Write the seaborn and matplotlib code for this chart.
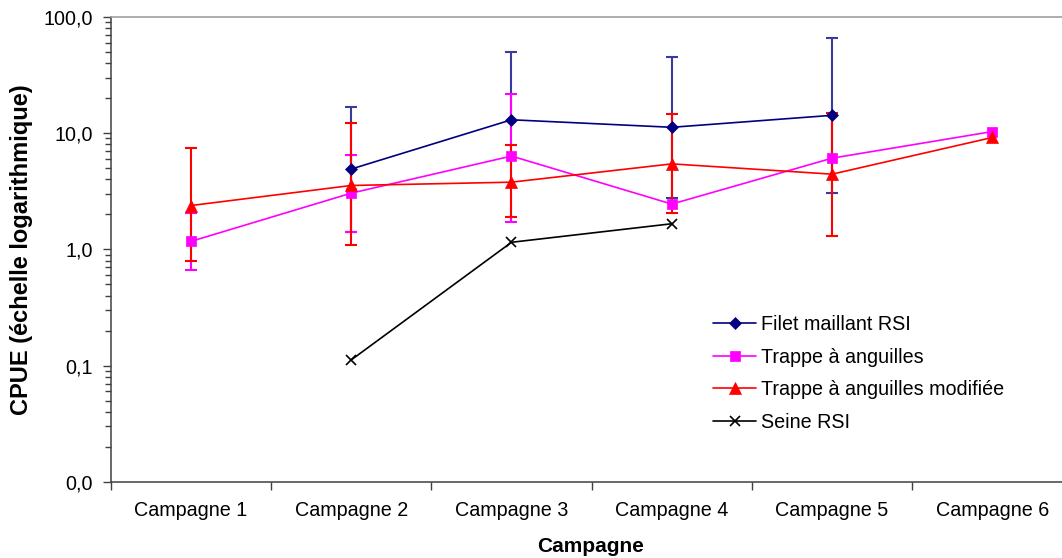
import numpy as np
import pandas as pd
import matplotlib
matplotlib.use("Agg")
import matplotlib.pyplot as plt
import matplotlib.ticker as mticker
import seaborn as sns

# ---------------- data ----------------
categories = ["Campagne 1", "Campagne 2", "Campagne 3", "Campagne 4", "Campagne 5", "Campagne 6"]
nan = np.nan

filet = [nan, 4.9, 13.0, 11.2, 14.2, nan]
filet_hi = [nan, 16.9, 50.0, 45.3, 65.0, nan]
filet_lo = [nan, 1.41, nan, 2.77, 3.06, nan]

trappe = [1.17, 3.04, 6.34, 2.45, 6.08, 10.3]
trappe_hi = [2.07, 6.41, 21.6, nan, nan, nan]
trappe_lo = [0.667, 1.41, 1.73, nan, nan, nan]

modif = [2.38, 3.54, 3.78, 5.43, 4.43, 9.16]
modif_hi = [7.47, 12.2, 7.93, 14.7, 15.0, nan]
modif_lo = [0.80, 1.08, 1.88, 2.07, 1.31, nan]

seine = [nan, 0.112, 1.15, 1.66, nan, nan]

series_names = ["Filet maillant RSI", "Trappe à anguilles",
                "Trappe à anguilles modifiée", "Seine RSI"]
y_ticks = [0.01, 0.1, 1, 10, 100]
y_tick_labels = ["0,0", "0,1", "1,0", "10,0", "100,0"]
x_label = "Campagne"
y_label = "CPUE (échelle logarithmique)"

# ---------------- style ----------------
sns.set_style("ticks")
plt.rcParams["font.family"] = ["Liberation Sans", "DejaVu Sans"]
plt.rcParams["text.color"] = "black"
plt.rcParams["axes.labelcolor"] = "black"
plt.rcParams["xtick.labelcolor"] = "black"
plt.rcParams["ytick.labelcolor"] = "black"

W, H = 1062, 558
fig = plt.figure(figsize=(W / 100, H / 100), dpi=100)
left_px, right_px, top_px, bottom_px = 110.7, 1072.6, 16.7, 482.0
ax = fig.add_axes([left_px / W, 1 - bottom_px / H,
                   (right_px - left_px) / W, (bottom_px - top_px) / H])

xpos = np.arange(len(categories))

styles = [
    dict(name=series_names[0], vals=filet, hi=filet_hi, lo=filet_lo,
         color="#000080", ecolor="#3a3a9e", marker="D", ms=6.4, mew=0.5),
    dict(name=series_names[1], vals=trappe, hi=trappe_hi, lo=trappe_lo,
         color="#FF00FF", ecolor="#FF00FF", marker="s", ms=7.0, mew=0.5),
    dict(name=series_names[2], vals=modif, hi=modif_hi, lo=modif_lo,
         color="#FF0000", ecolor="#FF0000", marker="^", ms=9.0, mew=0.5),
    dict(name=series_names[3], vals=seine, hi=None, lo=None,
         color="#000000", ecolor="#000000", marker="x", ms=7.5, mew=1.2),
]

# error bars (stems + caps)
for st in styles:
    if st["hi"] is None:
        continue
    v = np.array(st["vals"], float)
    hi = np.array(st["hi"], float)
    lo = np.array(st["lo"], float)
    m = ~np.isnan(hi)
    ax.vlines(xpos[m], v[m], hi[m], color=st["ecolor"], lw=1.5, zorder=2)
    ax.plot(xpos[m], hi[m], ls="none", marker="_", ms=9, mew=1.5,
            color=st["ecolor"], zorder=2)
    m = ~np.isnan(lo)
    ax.vlines(xpos[m], lo[m], v[m], color=st["ecolor"], lw=1.5, zorder=2)
    ax.plot(xpos[m], lo[m], ls="none", marker="_", ms=9, mew=1.5,
            color=st["ecolor"], zorder=2)

# lines + markers
for i, st in enumerate(styles):
    df = pd.DataFrame({"x": xpos, "y": st["vals"]}).dropna()
    sns.lineplot(data=df, x="x", y="y", ax=ax, color=st["color"],
                 marker=st["marker"], markersize=st["ms"],
                 markeredgecolor=st["color"], markeredgewidth=st["mew"],
                 markerfacecolor=st["color"], linewidth=1.2,
                 label=st["name"], zorder=3 + i)

ax.set_yscale("log")
ax.set_ylim(0.01, 100)
ax.set_xlim(-0.5, len(categories) - 0.5)

ax.yaxis.set_major_locator(mticker.FixedLocator(y_ticks))
ax.yaxis.set_major_formatter(mticker.FixedFormatter(y_tick_labels))
ax.yaxis.set_minor_locator(mticker.LogLocator(base=10, subs=np.arange(2, 10)))
ax.yaxis.set_minor_formatter(mticker.NullFormatter())

ax.xaxis.set_major_locator(mticker.FixedLocator(xpos))
ax.xaxis.set_major_formatter(mticker.FixedFormatter(categories))
ax.xaxis.set_minor_locator(mticker.FixedLocator(np.arange(len(categories) + 1) - 0.5))

ax.tick_params(axis="x", which="major", length=0, pad=14, labelsize=14.2)
ax.tick_params(axis="x", which="minor", length=6, width=1.0, color="#404040")
ax.tick_params(axis="y", which="major", length=6, width=1.0, pad=7, labelsize=14.2,
               color="#404040")
ax.tick_params(axis="y", which="minor", length=4.5, width=1.0, color="#404040")

for side in ["left", "bottom"]:
    ax.spines[side].set_color("#404040")
    ax.spines[side].set_linewidth(1.1)
ax.spines["top"].set_visible(True)
ax.spines["top"].set_color("#a0a0a0")
ax.spines["top"].set_linewidth(1.2)
ax.spines["right"].set_visible(True)
ax.spines["right"].set_color("#a0a0a0")

ax.set_xlabel(x_label, fontsize=15, fontweight="bold", va="center")
ax.set_ylabel(y_label, fontsize=17, fontweight="bold", va="center")
ax.xaxis.set_label_coords((591 - left_px) / (right_px - left_px),
                          (bottom_px - 546) / (bottom_px - top_px))
ax.yaxis.set_label_coords((22 - left_px) / (right_px - left_px), 0.5)

handles, labels = ax.get_legend_handles_labels()
ax.legend(handles, labels, loc="upper left",
          bbox_to_anchor=(713 / W, 1 - 315 / H), bbox_transform=fig.transFigure,
          frameon=False, fontsize=14.2, handlelength=2.2, handletextpad=0.25,
          labelspacing=0.69, borderpad=0, borderaxespad=0, numpoints=1)

fig.savefig("out.png", dpi=100)
